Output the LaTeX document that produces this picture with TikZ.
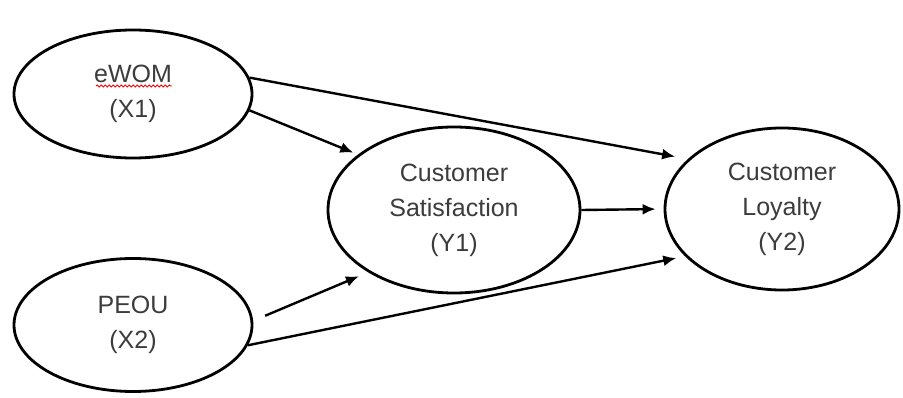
\documentclass[tikz,border=0pt]{standalone}
\usepackage{fontspec}
\setmainfont{Liberation Sans}
\usetikzlibrary{arrows.meta,shapes.geometric,decorations.pathmorphing,calc}
\definecolor{txt}{HTML}{3C3C3C}
\tikzset{
  latent/.style={draw=black, line width=2.8pt, ellipse, inner sep=0pt,
    align=center, text=txt, font=\fontsize{25}{35}\selectfont},
  path/.style={line width=2.4pt, -{Latex[length=13pt,width=11pt]}},
}
\begin{document}
\begin{tikzpicture}[x=1pt,y=-1pt]
\useasboundingbox (0,0) rectangle (903,398);
\fill[white] (0,0) rectangle (903,398);
\node[latent, minimum width=238pt, minimum height=128pt] (ewom) at (133,94) {eWOM\\(X1)};
\node[latent, minimum width=238pt, minimum height=133pt] (peou) at (133,325) {PEOU\\(X2)};
\node[latent, minimum width=252pt, minimum height=166pt] (sat) at (454,210) {Customer\\Satisfaction\\(Y1)};
\node[latent, minimum width=234pt, minimum height=162pt] (loy) at (782,209) {Customer\\Loyalty\\(Y2)};
\draw[red, line width=0.9pt, decorate, decoration={snake, amplitude=1pt, segment length=4pt}]
  ($(ewom.center)+(-37,-8)$) -- ($(ewom.center)+(39,-8)$);
\draw[path, shorten >=13pt] (ewom.8) -- (loy.152);
\draw[path, shorten >=5pt] (ewom.-8) -- (sat.150);
\draw[path, shorten >=8pt] (sat.east) -- (loy.west);
\draw[path, shorten <=13pt, shorten >=10pt] (peou.2) -- (sat.216);
\draw[path, shorten >=9pt] (peou.-10) -- (loy.206);
\end{tikzpicture}
\end{document}
